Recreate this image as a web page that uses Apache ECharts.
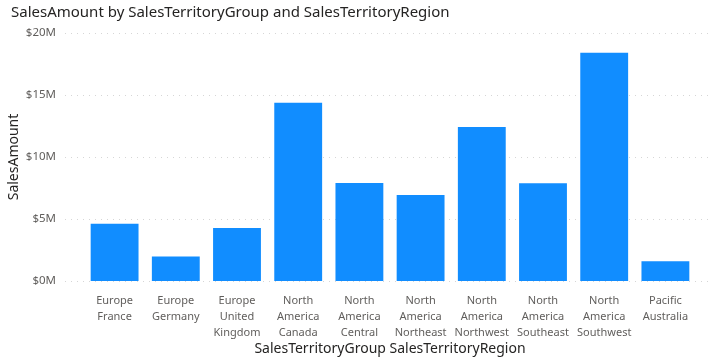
<!DOCTYPE html>
<html>
<head>
<meta charset="utf-8">
<script src="https://cdn.jsdelivr.net/npm/echarts@6/dist/echarts.min.js"></script>
<style>
html,body{margin:0;padding:0;background:#fff;}
#chart{width:718px;height:360px;}
</style>
</head>
<body>
<div id="chart"></div>
<script>
const titleText = 'SalesAmount by SalesTerritoryGroup and SalesTerritoryRegion';
const categories = [
  'Europe\nFrance', 'Europe\nGermany', 'Europe\nUnited\nKingdom',
  'North\nAmerica\nCanada', 'North\nAmerica\nCentral', 'North\nAmerica\nNortheast',
  'North\nAmerica\nNorthwest', 'North\nAmerica\nSoutheast', 'North\nAmerica\nSouthwest',
  'Pacific\nAustralia'
];
const salesAmount = [4607538, 1983988, 4279009, 14377926, 7909009, 6939374, 12428657, 7879655, 18406427, 1594335];
const yTicks = [0, 5000000, 10000000, 15000000, 20000000];
const yAxisName = 'SalesAmount';
const xAxisName = 'SalesTerritoryGroup SalesTerritoryRegion';

const FONT = "'Segoe UI', 'Noto Sans', sans-serif";
const chart = echarts.init(document.getElementById('chart'), null, {renderer: 'canvas'});
const yMin = yTicks[0], yMax = yTicks[yTicks.length - 1], yInt = yTicks[1] - yTicks[0];

chart.setOption({
  animation: false,
  backgroundColor: '#ffffff',
  title: {
    text: titleText, left: 6, top: 0,
    textStyle: {fontFamily: FONT, fontSize: 15, fontWeight: 'normal', color: '#252423'}
  },
  graphic: [
    {
      type: 'text', x: 14, y: 157, rotation: Math.PI / 2, silent: true,
      style: {text: yAxisName, font: '14px ' + FONT, fill: '#252423', textAlign: 'center', textVerticalAlign: 'middle'}
    },
    {
      type: 'text', x: 390, y: 349, silent: true,
      style: {text: xAxisName, font: '14px ' + FONT, fill: '#252423', textAlign: 'center', textVerticalAlign: 'middle'}
    }
  ],
  grid: [
    {left: 65, right: 8, top: 33, bottom: 79, containLabel: false, outerBoundsMode: 'none'},
    {left: 84, right: 22, top: 33, bottom: 79, containLabel: false, outerBoundsMode: 'none'}
  ],
  xAxis: [
    {type: 'category', gridIndex: 0, data: categories, show: false},
    {
      type: 'category', gridIndex: 1, data: categories,
      axisLine: {show: false}, axisTick: {show: false},
      axisLabel: {
        interval: 0, margin: 12, color: '#605E5C', fontFamily: FONT, fontSize: 11, lineHeight: 16
      }
    }
  ],
  yAxis: [
    {
      type: 'value', gridIndex: 0, min: yMin, max: yMax, interval: yInt,
      axisLine: {show: false}, axisTick: {show: false},
      axisLabel: {
        margin: 9, color: '#605E5C', fontFamily: FONT, fontSize: 11.5,
        formatter: v => '$' + (v / 1000000) + 'M'
      },
      splitLine: {show: true, lineStyle: {color: '#d6d6d6', type: [1, 5], width: 1}}
    },
    {
      type: 'value', gridIndex: 1, min: yMin, max: yMax, interval: yInt, show: false,
      splitLine: {show: false}
    }
  ],
  series: [{
    type: 'bar', xAxisIndex: 1, yAxisIndex: 1, data: salesAmount,
    barCategoryGap: '21.8%',
    itemStyle: {color: '#118DFF'}
  }]
});
</script>
</body>
</html>
